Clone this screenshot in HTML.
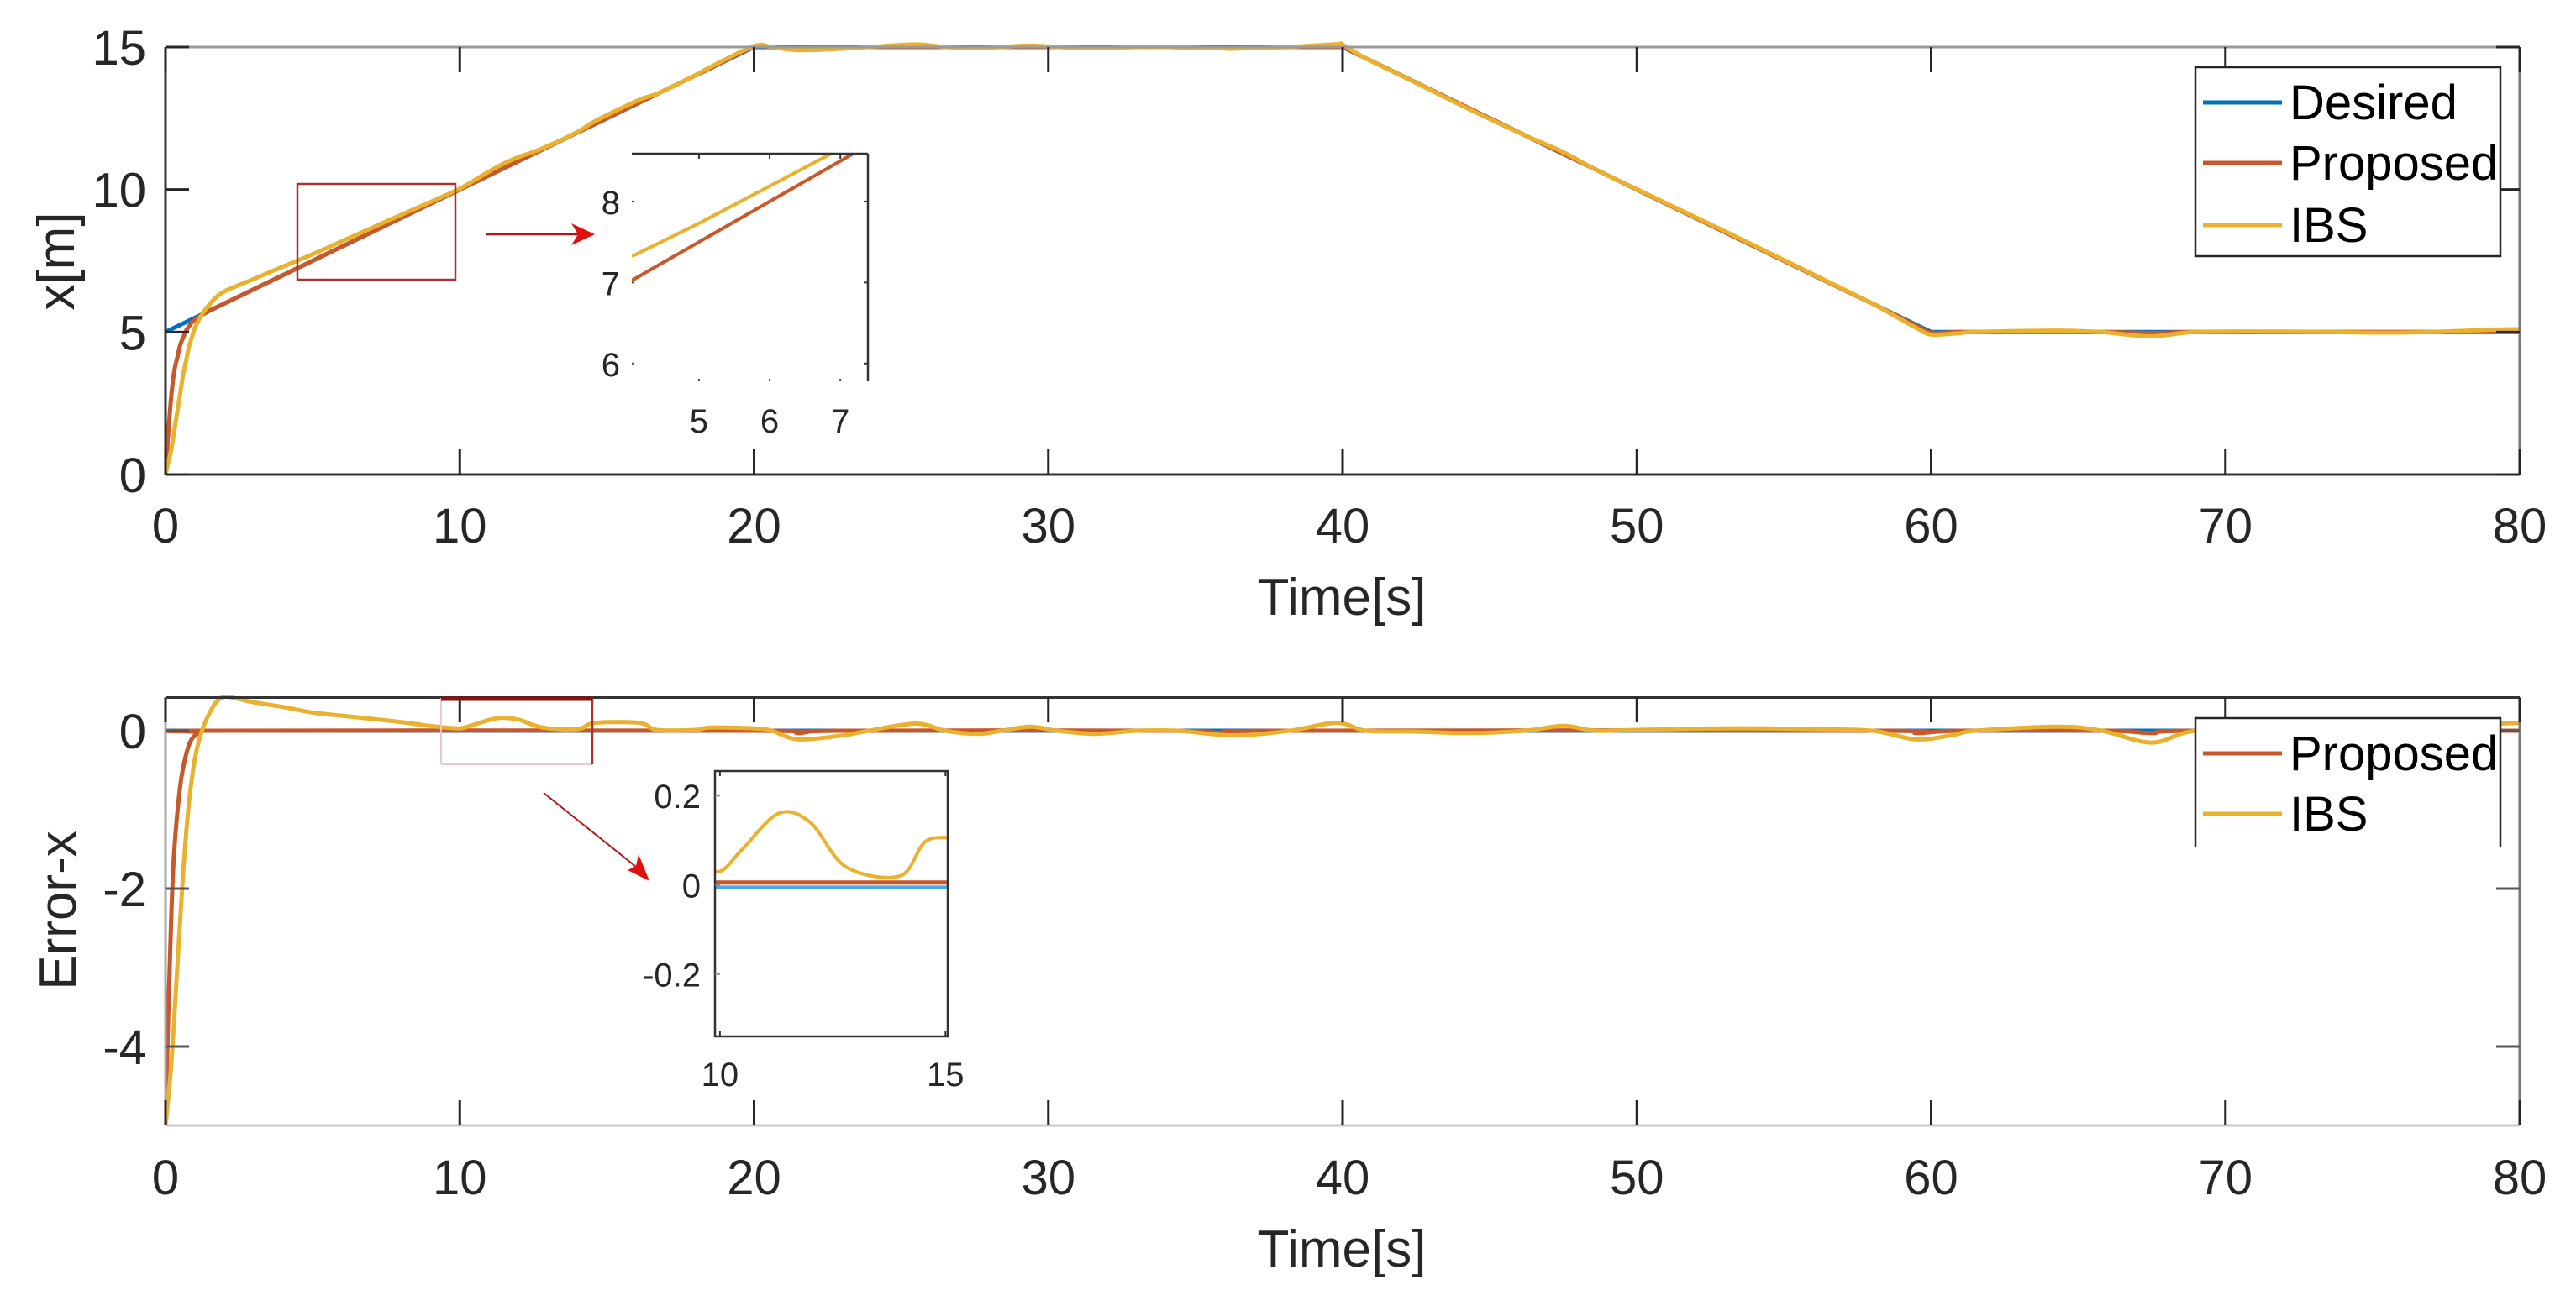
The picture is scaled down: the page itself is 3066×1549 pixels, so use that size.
<!DOCTYPE html>
<html><head><meta charset="utf-8"><style>
html,body{margin:0;padding:0;background:#fff;}
svg{display:block;font-family:"Liberation Sans",Arial,sans-serif;}
</style></head><body>
<svg id="fig" width="3066" height="1549" viewBox="0 0 3066 1549" xmlns="http://www.w3.org/2000/svg">
<rect width="3066" height="1549" fill="#fff"/>
</svg>
<script>
// ---- data ----
const xTicks = [0,10,20,30,40,50,60,70,80];
const topYTicks = [0,5,10,15];
const botYTicks = [-4,-2,0];
const desiredT = [0,20,40,60,80];
const desiredX = [5,15,15,5,5];
const propErrT = [0,0.1,0.2,0.3,0.5,0.7,0.9,1.2,1.5,20,21.5,23,34,36,38,58,59.5,61,66,67.5,69,80];
const propErrV = [-5,-3.5,-2.3,-1.5,-0.7,-0.3,-0.1,-0.02,0,0,-0.03,0,0,-0.03,0,0,-0.03,0,0,-0.03,0,0];
const ibsErrT = [0,0.2,0.4,0.6,0.8,1.0,1.2,1.4,1.7,2.0,2.5,3,4,5,6,7,8,9,10,10.5,11.3,12.0,12.8,14.0,14.6,16.1,16.7,18,18.5,20,20.6,21.5,23,23.9,25.5,26.5,27.6,28.4,29.4,30.3,31.6,33,34.4,36.3,38.2,39.8,40.8,42.4,44.3,46.2,47.5,48.6,50,53,56,58,59.5,60.8,61.5,64.3,65.8,67.5,69,72,76,79,80];
const ibsErrV = [-5,-4.2,-3,-1.8,-0.9,-0.35,-0.05,0.15,0.35,0.43,0.40,0.36,0.3,0.23,0.19,0.15,0.11,0.06,0.03,0.08,0.16,0.14,0.04,0.02,0.1,0.1,0.01,0.01,0.04,0.03,0,-0.11,-0.06,0,0.09,0,-0.04,0,0.05,0,-0.04,0,0,-0.06,0,0.1,0,-0.01,-0.03,0,0.06,0,0.01,0.03,0.02,0,-0.11,-0.05,0,0.05,0,-0.15,0,0.02,-0.02,0.08,0.1];
const inset1XTicks = [5,6,7];
const inset1YTicks = [6,7,8];
const inset2XTicks = [10,15];
const inset2YTicks = [-0.2,0,0.2];
const inset2YLabels = ['-0.2','0','0.2'];

const C_DES='#0072BD', C_PRO='#C8582A', C_IBS='#EAB12E';
const NS='http://www.w3.org/2000/svg';
const svg=document.getElementById('fig');
function mk(tag,attrs,parent){const e=document.createElementNS(NS,tag);for(const k in attrs)e.setAttribute(k,attrs[k]);(parent||svg).appendChild(e);return e;}
function interp(T,V,t){if(t<=T[0])return V[0];for(let i=1;i<T.length;i++){if(t<=T[i]){const f=(t-T[i-1])/(T[i]-T[i-1]);return V[i-1]+f*(V[i]-V[i-1]);}}return V[V.length-1];}
function smoothPath(pts){let d='M'+pts[0][0].toFixed(1)+','+pts[0][1].toFixed(1);for(let i=0;i<pts.length-1;i++){const p0=pts[Math.max(0,i-1)],p1=pts[i],p2=pts[i+1],p3=pts[Math.min(pts.length-1,i+2)];const c1=[p1[0]+(p2[0]-p0[0])/6,p1[1]+(p2[1]-p0[1])/6],c2=[p2[0]-(p3[0]-p1[0])/6,p2[1]-(p3[1]-p1[1])/6];d+='C'+c1[0].toFixed(1)+','+c1[1].toFixed(1)+' '+c2[0].toFixed(1)+','+c2[1].toFixed(1)+' '+p2[0].toFixed(1)+','+p2[1].toFixed(1);}return d;}
function linPath(pts){return pts.map((p,i)=>(i?'L':'M')+p[0].toFixed(1)+','+p[1].toFixed(1)).join('');}
function axisFns(x0,x1,X0,X1,y0,y1,Y0,Y1){return{sx:t=>X0+(t-x0)/(x1-x0)*(X1-X0),sy:v=>Y0+(v-y0)/(y1-y0)*(Y1-Y0)};}
function desired(t){return interp(desiredT,desiredX,t);}
function propX(t){return desired(t)+interp(propErrT,propErrV,t);}
function ibsX(t){return desired(t)+interp(ibsErrT,ibsErrV,t);}
function sampleT(a,b){const s=new Set([a,b]);[...desiredT,...propErrT,...ibsErrT].forEach(t=>{if(t>=a&&t<=b)s.add(t);});return [...s].sort((p,q)=>p-q);}
function txt(x,y,s,size,anchor,name,parent,extra){const e=mk('text',Object.assign({x:x,y:y,'font-size':size,'text-anchor':anchor||'middle',fill:'#262626'},extra||{}),parent);e.textContent=s;return e;}

// ---- TOP PLOT ----
const L=197,R=2999;
const A=axisFns(0,80,L,R,0,15,565,56);
const g1=mk('g',{});
mk('clipPath',{id:'c1'},g1).appendChild(mk('rect',{x:L,y:40,width:R-L,height:530}));
const tt=sampleT(0,80);
const s1=mk('g',{'clip-path':'url(#c1)',fill:'none','stroke-width':5,'stroke-linejoin':'round'},g1);
let p=mk('path',{d:linPath(desiredT.map((t,i)=>[A.sx(t),A.sy(desiredX[i])])),stroke:C_DES},s1);

p=mk('path',{d:smoothPath(tt.map(t=>[A.sx(t),A.sy(propX(t))])),stroke:C_PRO},s1);

p=mk('path',{d:smoothPath(tt.map(t=>[A.sx(t),A.sy(ibsX(t))])),stroke:C_IBS},s1);

mk('line',{x1:L,y1:56,x2:R,y2:56,stroke:'#9a9a9a','stroke-width':3},g1);
mk('line',{x1:R,y1:56,x2:R,y2:565,stroke:'#777','stroke-width':3},g1);
mk('line',{x1:L,y1:565,x2:R,y2:565,stroke:'#333','stroke-width':3},g1);
mk('line',{x1:L,y1:56,x2:L,y2:565,stroke:'#333','stroke-width':3},g1);
xTicks.forEach(t=>{const x=A.sx(t);mk('line',{x1:x,y1:565,x2:x,y2:535,stroke:'#262626','stroke-width':3},g1);mk('line',{x1:x,y1:56,x2:x,y2:86,stroke:'#262626','stroke-width':3},g1);txt(x,646,String(t),58,'middle','x-tick-label',g1);});
topYTicks.forEach(v=>{const y=A.sy(v);mk('line',{x1:L,y1:y,x2:L+28,y2:y,stroke:'#262626','stroke-width':3},g1);mk('line',{x1:R,y1:y,x2:R-28,y2:y,stroke:'#262626','stroke-width':3},g1);txt(174,y+21,String(v),58,'end','y-tick-label',g1);});
txt(1597,732,'Time[s]',62,'middle','x-axis-title',g1);
txt(0,0,'x[m]',62,'middle','y-axis-title',g1,{transform:'translate(88,311) rotate(-90)'});
let r=mk('rect',{x:354,y:219,width:188,height:114,fill:'none',stroke:'#a83232','stroke-width':2.5},g1);

mk('line',{x1:579,y1:279,x2:690,y2:279,stroke:'#b01818','stroke-width':2.5},g1);
mk('path',{d:'M708,279 L680,266 L688,279 L680,292 Z',fill:'#e01010'},g1);
const B=axisFns(4.05,7.39,752,1033,5.78,8.59,454,183);
const gi=mk('g',{},g1);
mk('rect',{x:752,y:183,width:281,height:271,fill:'#fff'},gi);
mk('clipPath',{id:'c2'},gi).appendChild(mk('rect',{x:752,y:183,width:281,height:271}));
const ti=[];for(let k=0;k<=60;k++)ti.push(4.05+k*(7.39-4.05)/60);
const si=mk('g',{'clip-path':'url(#c2)',fill:'none','stroke-width':4},gi);
mk('path',{d:smoothPath(ti.map(t=>[B.sx(t),B.sy(propX(t))])),stroke:C_PRO},si);
mk('path',{d:smoothPath(ti.map(t=>[B.sx(t),B.sy(ibsX(t))])),stroke:C_IBS},si);
mk('line',{x1:752,y1:183,x2:1033,y2:183,stroke:'#333','stroke-width':2.5},gi);
mk('line',{x1:1033,y1:183,x2:1033,y2:454,stroke:'#333','stroke-width':2.5},gi);
inset1XTicks.forEach(t=>{const x=B.sx(t);mk('rect',{x:x-1,y:451,width:2,height:3,fill:'#444'},gi);mk('line',{x1:x,y1:183,x2:x,y2:189,stroke:'#333','stroke-width':2},gi);txt(x,515,String(t),40,'middle','inset-x-tick-label',gi);});
inset1YTicks.forEach(v=>{const y=B.sy(v);mk('rect',{x:752,y:y-1,width:3,height:2,fill:'#444'},gi);mk('line',{x1:1033,y1:y,x2:1028,y2:y,stroke:'#333','stroke-width':2},gi);txt(738,y+15,String(v),40,'end','inset-y-tick-label',gi);});
const lg1=mk('g',{},g1);
mk('rect',{x:2613,y:80,width:363,height:225,fill:'#fff',stroke:'#262626','stroke-width':2.5},lg1);
[['Desired',C_DES,122],['Proposed',C_PRO,194],['IBS',C_IBS,268]].forEach(e=>{const g=mk('g',{},lg1);mk('line',{x1:2622,y1:e[2],x2:2716,y2:e[2],stroke:e[1],'stroke-width':5},g);txt(2725,e[2]+20,e[0],58,'start','legend-label',g,{fill:'#000'});});

// ---- BOTTOM PLOT ----
const D=axisFns(0,80,L,R,-5,0.42,1340,830.5);
const g2=mk('g',{});
mk('clipPath',{id:'c3'},g2).appendChild(mk('rect',{x:L,y:828,width:R-L,height:515}));
const s2=mk('g',{'clip-path':'url(#c3)',fill:'none','stroke-width':5,'stroke-linejoin':'round'},g2);
p=mk('path',{d:linPath([[D.sx(0),D.sy(0)],[D.sx(80),D.sy(0)]]),stroke:C_DES},s2);

p=mk('path',{d:smoothPath(propErrT.map((t,i)=>[D.sx(t),D.sy(propErrV[i])])),stroke:C_PRO},s2);

p=mk('path',{d:smoothPath(ibsErrT.map((t,i)=>[D.sx(t),D.sy(ibsErrV[i])])),stroke:C_IBS},s2);

mk('line',{x1:L,y1:830.5,x2:R,y2:830.5,stroke:'#333','stroke-width':3},g2);
mk('line',{x1:R,y1:830.5,x2:R,y2:1340,stroke:'#777','stroke-width':3},g2);
mk('line',{x1:L,y1:1340,x2:R,y2:1340,stroke:'#c8c8c8','stroke-width':3},g2);
mk('line',{x1:L,y1:830.5,x2:L,y2:1340,stroke:'#aaa','stroke-width':3},g2);
xTicks.forEach(t=>{const x=D.sx(t);mk('line',{x1:x,y1:1340,x2:x,y2:1310,stroke:'#262626','stroke-width':3},g2);mk('line',{x1:x,y1:830.5,x2:x,y2:860,stroke:'#262626','stroke-width':3},g2);txt(x,1422,String(t),58,'middle','x-tick-label',g2);});
botYTicks.forEach(v=>{const y=D.sy(v);mk('line',{x1:L,y1:y,x2:L+28,y2:y,stroke:'#555','stroke-width':3},g2);mk('line',{x1:R,y1:y,x2:R-28,y2:y,stroke:'#555','stroke-width':3},g2);txt(174,y+21,String(v),58,'end','y-tick-label',g2);});
txt(1597,1508,'Time[s]',62,'middle','x-axis-title',g2);
txt(0,0,'Error-x',62,'middle','y-axis-title',g2,{transform:'translate(90,1084) rotate(-90)'});
r=mk('g',{},g2);
mk('line',{x1:525,y1:910,x2:705,y2:910,stroke:'#f0c8cc','stroke-width':2},r);
mk('line',{x1:525,y1:831,x2:525,y2:910,stroke:'#f0c8cc','stroke-width':2},r);
mk('line',{x1:705,y1:831,x2:705,y2:910,stroke:'#a83232','stroke-width':2.5},r);
mk('line',{x1:525,y1:832,x2:705,y2:832,stroke:'#8b0d0d','stroke-width':5},r);
mk('line',{x1:647,y1:944,x2:762,y2:1036,stroke:'#b01818','stroke-width':2},g2);
mk('path',{d:'M773,1049 L747,1036 L757,1031 L760,1017 Z',fill:'#e01010'},g2);
const E=axisFns(9.89,15.05,851,1128,-0.34,0.255,1234,918);
const gj=mk('g',{},g2);
mk('rect',{x:851,y:918,width:277,height:316,fill:'#fff'},gj);
mk('clipPath',{id:'c4'},gj).appendChild(mk('rect',{x:851,y:918,width:277,height:316}));
const sj=mk('g',{'clip-path':'url(#c4)',fill:'none','stroke-width':4},gj);
mk('line',{x1:851,y1:E.sy(0)+3,x2:1128,y2:E.sy(0)+3,stroke:'#4aa8e8','stroke-width':4},sj);
mk('path',{d:smoothPath(sampleT(9.89,15.05).map(t=>[E.sx(t),E.sy(interp(propErrT,propErrV,t)+0.005)])),stroke:C_PRO,'stroke-width':5},sj);
mk('path',{d:smoothPath(sampleT(9.5,15.5).map(t=>[E.sx(t),E.sy(interp(ibsErrT,ibsErrV,t))])),stroke:C_IBS},sj);
mk('rect',{x:851,y:918,width:277,height:316,fill:'none',stroke:'#333','stroke-width':2.5},gj);
inset2XTicks.forEach(t=>{const x=E.sx(t);mk('line',{x1:x,y1:1234,x2:x,y2:1228,stroke:'#333','stroke-width':2},gj);mk('line',{x1:x,y1:918,x2:x,y2:924,stroke:'#333','stroke-width':2},gj);txt(x,1293,String(t),40,'middle','inset-x-tick-label',gj);});
inset2YTicks.forEach((v,i)=>{const y=E.sy(v);mk('line',{x1:851,y1:y,x2:857,y2:y,stroke:'#888','stroke-width':2},gj);txt(834,y+15,inset2YLabels[i],40,'end','inset-y-tick-label',gj);});
const lg2=mk('g',{},g2);
mk('rect',{x:2613,y:855,width:363,height:153,fill:'#fff'},lg2);
mk('path',{d:'M2613,1008 L2613,855 L2976,855 L2976,1008',fill:'none',stroke:'#262626','stroke-width':2.5},lg2);
[['Proposed',C_PRO,897],['IBS',C_IBS,969]].forEach(e=>{const g=mk('g',{},lg2);mk('line',{x1:2622,y1:e[2],x2:2716,y2:e[2],stroke:e[1],'stroke-width':5},g);txt(2725,e[2]+20,e[0],58,'start','legend-label',g,{fill:'#000'});});
</script>
</body></html>
